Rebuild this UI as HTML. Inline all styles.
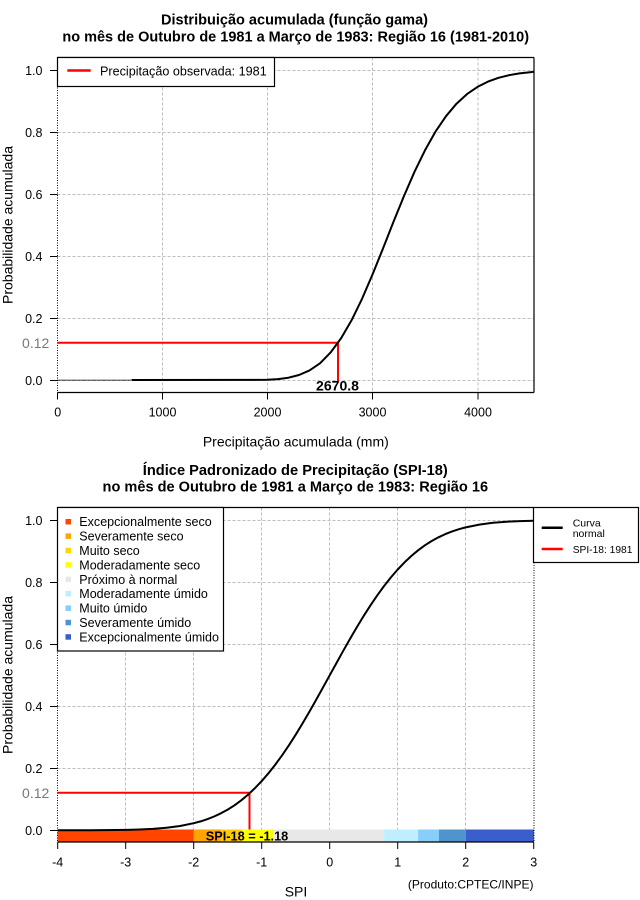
<!DOCTYPE html>
<html>
<head>
<meta charset="utf-8">
<style>
html,body{margin:0;padding:0;background:#fff;}
svg{display:block;}
text{font-family:"Liberation Sans",Arial,sans-serif;}
</style>
</head>
<body>
<svg width="640" height="900" viewBox="0 0 640 900" xmlns="http://www.w3.org/2000/svg">
<rect x="0" y="0" width="640" height="900" fill="#fff"/>

<!-- ============ PLOT 1 ============ -->
<text x="294.5" y="24.7" font-size="14.5" font-weight="bold" text-anchor="middle" textLength="267" lengthAdjust="spacingAndGlyphs">Distribuição acumulada (função gama)</text>
<text x="295.7" y="41.5" font-size="14.5" font-weight="bold" text-anchor="middle" textLength="466.7" lengthAdjust="spacingAndGlyphs">no mês de Outubro de 1981 a Março de 1983: Região 16 (1981-2010)</text>

<!-- grid -->
<g stroke="#bdbdbd" stroke-width="1" stroke-dasharray="3,2" fill="none">
<line x1="57.5" y1="70.5" x2="534" y2="70.5"/>
<line x1="57.5" y1="132.5" x2="534" y2="132.5"/>
<line x1="57.5" y1="194.5" x2="534" y2="194.5"/>
<line x1="57.5" y1="256.5" x2="534" y2="256.5"/>
<line x1="57.5" y1="318.5" x2="534" y2="318.5"/>
<line x1="57.5" y1="380.5" x2="534" y2="380.5"/>
<line x1="162.5" y1="57.5" x2="162.5" y2="392.5"/>
<line x1="267.5" y1="57.5" x2="267.5" y2="392.5"/>
<line x1="372.5" y1="57.5" x2="372.5" y2="392.5"/>
<line x1="478" y1="57.5" x2="478" y2="392.5"/>
</g>

<!-- frame -->
<g stroke="#000" stroke-width="1.2" fill="none">
<line x1="57.5" y1="57.5" x2="534" y2="57.5"/>
<line x1="534" y1="57.5" x2="534" y2="392.5"/>
<line x1="57.5" y1="392.5" x2="534" y2="392.5"/>
</g>
<line x1="57.5" y1="57.5" x2="57.5" y2="392.5" stroke="#000" stroke-width="1" stroke-dasharray="1,1.5"/>

<!-- y ticks -->
<g stroke="#000" stroke-width="1">
<line x1="50" y1="70.5" x2="57.5" y2="70.5"/>
<line x1="50" y1="132.5" x2="57.5" y2="132.5"/>
<line x1="50" y1="194.5" x2="57.5" y2="194.5"/>
<line x1="50" y1="256.5" x2="57.5" y2="256.5"/>
<line x1="50" y1="318.5" x2="57.5" y2="318.5"/>
<line x1="50" y1="380.5" x2="57.5" y2="380.5"/>
</g>
<g font-size="12.5" text-anchor="end" fill="#000">
<text x="42.5" y="75.2">1.0</text>
<text x="42.5" y="137.2">0.8</text>
<text x="42.5" y="199.2">0.6</text>
<text x="42.5" y="261.2">0.4</text>
<text x="42.5" y="323.2">0.2</text>
<text x="42.5" y="385.2">0.0</text>
</g>
<!-- x ticks -->
<g stroke="#000" stroke-width="1">
<line x1="57.5" y1="392.5" x2="57.5" y2="399.5"/>
<line x1="162.5" y1="392.5" x2="162.5" y2="399.5"/>
<line x1="267.5" y1="392.5" x2="267.5" y2="399.5"/>
<line x1="372.5" y1="392.5" x2="372.5" y2="399.5"/>
<line x1="478" y1="392.5" x2="478" y2="399.5"/>
</g>
<g font-size="12.5" text-anchor="middle" fill="#000">
<text x="57.7" y="416.7">0</text>
<text x="162.5" y="416.7">1000</text>
<text x="267.5" y="416.7">2000</text>
<text x="372.5" y="416.7">3000</text>
<text x="478" y="416.7">4000</text>
</g>
<text x="295.8" y="446.5" font-size="14" text-anchor="middle">Precipitação acumulada (mm)</text>
<text transform="translate(12.5,225) rotate(-90)" font-size="14" text-anchor="middle">Probabilidade acumulada</text>

<!-- red obs lines -->
<g stroke="#ff0000" stroke-width="2" fill="none">
<line x1="57.5" y1="342.7" x2="338" y2="342.7"/>
<line x1="338" y1="342.7" x2="338" y2="381"/>
</g>
<text x="49.3" y="347.8" font-size="14" text-anchor="end" fill="#777">0.12</text>

<!-- curve -->
<line x1="57.5" y1="380.3" x2="131.5" y2="380.3" stroke="#000" stroke-width="1.5" stroke-dasharray="1,1"/>
<path d="M131.5,380 L267.5,379.8 L278,379.1 L288.5,377.7 L299,375.0 L309.5,370.4 L320,363.3 L330.5,352.6 L341,338.4 L351.5,320.4 L362,298.9 L372.5,274.5 L383,248.5 L393.5,221.8 L404,196.0 L414.5,171.8 L425,150.3 L435.5,131.6 L446,116.2 L456.5,103.7 L467,94.1 L477.5,86.9 L488,81.6 L498.5,77.8 L509,75.2 L519.5,73.4 L530,72.2 L534,71.8" stroke="#000" stroke-width="2" fill="none" stroke-linejoin="round"/>
<text x="337.5" y="390.7" font-size="14" font-weight="bold" text-anchor="middle" textLength="43" lengthAdjust="spacingAndGlyphs">2670.8</text>

<!-- legend 1 -->
<rect x="57.5" y="57.5" width="217" height="29" fill="#fff" stroke="#000" stroke-width="1.2"/>
<line x1="67.3" y1="70.5" x2="90.7" y2="70.5" stroke="#ff0000" stroke-width="2.5"/>
<text x="100" y="75.3" font-size="12.5" textLength="166.7" lengthAdjust="spacingAndGlyphs">Precipitação observada: 1981</text>

<!-- ============ PLOT 2 ============ -->
<text x="295.3" y="475" font-size="14.5" font-weight="bold" text-anchor="middle" textLength="305" lengthAdjust="spacingAndGlyphs">Índice Padronizado de Precipitação (SPI-18)</text>
<text x="295.3" y="491.7" font-size="14.5" font-weight="bold" text-anchor="middle" textLength="385.5" lengthAdjust="spacingAndGlyphs">no mês de Outubro de 1981 a Março de 1983: Região 16</text>

<g stroke="#bdbdbd" stroke-width="1" stroke-dasharray="3,2" fill="none">
<line x1="57.5" y1="520.5" x2="534" y2="520.5"/>
<line x1="57.5" y1="582.5" x2="534" y2="582.5"/>
<line x1="57.5" y1="644.5" x2="534" y2="644.5"/>
<line x1="57.5" y1="706.5" x2="534" y2="706.5"/>
<line x1="57.5" y1="768.5" x2="534" y2="768.5"/>
<line x1="57.5" y1="830.5" x2="534" y2="830.5"/>
<line x1="125.5" y1="507.5" x2="125.5" y2="842"/>
<line x1="193.5" y1="507.5" x2="193.5" y2="842"/>
<line x1="261.5" y1="507.5" x2="261.5" y2="842"/>
<line x1="329.5" y1="507.5" x2="329.5" y2="842"/>
<line x1="397.5" y1="507.5" x2="397.5" y2="842"/>
<line x1="465.5" y1="507.5" x2="465.5" y2="842"/>
</g>

<!-- red obs lines -->
<g stroke="#ff0000" stroke-width="2" fill="none">
<line x1="57.5" y1="792.7" x2="249.5" y2="792.7"/>
<line x1="249.5" y1="792.7" x2="249.5" y2="830"/>
</g>

<!-- color bar -->
<rect x="57.5" y="829.5" width="136.2" height="12.5" fill="#ff4500"/>
<rect x="193.7" y="829.5" width="27.2" height="12.5" fill="#ffa500"/>
<rect x="220.9" y="829.5" width="20.4" height="12.5" fill="#ffcc00"/>
<rect x="241.3" y="829.5" width="32" height="12.5" fill="#ffff00"/>
<rect x="273.3" y="829.5" width="110.8" height="12.5" fill="#e8e8e8"/>
<rect x="384.1" y="829.5" width="34" height="12.5" fill="#bfefff"/>
<rect x="418.1" y="829.5" width="20.8" height="12.5" fill="#87cefa"/>
<rect x="438.9" y="829.5" width="27" height="12.5" fill="#4f94cd"/>
<rect x="465.9" y="829.5" width="68.1" height="12.5" fill="#3a5fcd"/>

<!-- frame -->
<g stroke="#000" stroke-width="1.2" fill="none">
<line x1="57.5" y1="507.5" x2="534" y2="507.5"/>
<line x1="57.5" y1="842" x2="534" y2="842"/>
</g>
<line x1="57.5" y1="507.5" x2="57.5" y2="842" stroke="#000" stroke-width="1" stroke-dasharray="1,1.5"/>
<line x1="534" y1="507.5" x2="534" y2="842" stroke="#000" stroke-width="1" stroke-dasharray="1,1.5"/>

<!-- curve -->
<path d="M57.7,830.3 L91.7,830.2 L125.7,829.9 L139.3,829.5 L152.9,828.9 L166.5,827.8 L180.1,826.0 L193.7,823.2 L200.5,821.4 L207.3,819.2 L214.1,816.5 L220.9,813.3 L227.7,809.6 L234.5,805.3 L241.3,800.3 L248.1,794.6 L254.9,788.2 L261.7,781.1 L268.5,773.2 L275.3,764.6 L282.1,755.3 L288.9,745.3 L295.7,734.7 L302.5,723.5 L309.3,711.9 L316.1,699.9 L322.9,687.6 L329.7,675.3 L336.5,663.0 L343.3,650.7 L350.1,638.7 L356.9,627.1 L363.7,615.9 L370.5,605.3 L377.3,595.3 L384.1,586.0 L390.9,577.4 L397.7,569.5 L404.5,562.4 L411.3,556.0 L418.1,550.3 L424.9,545.3 L431.7,541.0 L438.5,537.3 L445.3,534.1 L452.1,531.4 L458.9,529.2 L465.7,527.4 L479.3,524.6 L492.9,522.8 L506.5,521.7 L520.1,521.1 L533.7,520.7" stroke="#000" stroke-width="2" fill="none" stroke-linejoin="round"/>

<text x="205.7" y="840.6" font-size="13" font-weight="bold" textLength="82.6" lengthAdjust="spacingAndGlyphs">SPI-18 = -1.18</text>

<!-- y ticks -->
<g stroke="#000" stroke-width="1">
<line x1="50" y1="520.5" x2="57.5" y2="520.5"/>
<line x1="50" y1="582.5" x2="57.5" y2="582.5"/>
<line x1="50" y1="644.5" x2="57.5" y2="644.5"/>
<line x1="50" y1="706.5" x2="57.5" y2="706.5"/>
<line x1="50" y1="768.5" x2="57.5" y2="768.5"/>
<line x1="50" y1="830.5" x2="57.5" y2="830.5"/>
</g>
<g font-size="12.5" text-anchor="end" fill="#000">
<text x="42.5" y="525.1">1.0</text>
<text x="42.5" y="587.1">0.8</text>
<text x="42.5" y="649.1">0.6</text>
<text x="42.5" y="711.1">0.4</text>
<text x="42.5" y="773.1">0.2</text>
<text x="42.5" y="835.1">0.0</text>
</g>
<text x="49.3" y="797.8" font-size="14" text-anchor="end" fill="#777">0.12</text>

<!-- x ticks -->
<g stroke="#000" stroke-width="1">
<line x1="57.7" y1="842" x2="57.7" y2="849"/>
<line x1="125.7" y1="842" x2="125.7" y2="849"/>
<line x1="193.7" y1="842" x2="193.7" y2="849"/>
<line x1="261.7" y1="842" x2="261.7" y2="849"/>
<line x1="329.7" y1="842" x2="329.7" y2="849"/>
<line x1="397.7" y1="842" x2="397.7" y2="849"/>
<line x1="465.7" y1="842" x2="465.7" y2="849"/>
<line x1="533.7" y1="842" x2="533.7" y2="849"/>
</g>
<g font-size="12.5" text-anchor="middle" fill="#000">
<text x="57.7" y="866.7">-4</text>
<text x="125.7" y="866.7">-3</text>
<text x="193.7" y="866.7">-2</text>
<text x="261.7" y="866.7">-1</text>
<text x="329.7" y="866.7">0</text>
<text x="397.7" y="866.7">1</text>
<text x="465.7" y="866.7">2</text>
<text x="533.7" y="866.7">3</text>
</g>
<text x="296" y="896.5" font-size="14" text-anchor="middle">SPI</text>
<text x="533.5" y="888.5" font-size="12" text-anchor="end" textLength="125.6" lengthAdjust="spacingAndGlyphs">(Produto:CPTEC/INPE)</text>
<text transform="translate(12.5,675) rotate(-90)" font-size="14" text-anchor="middle">Probabilidade acumulada</text>

<!-- legend 2a -->
<rect x="57.5" y="507.5" width="166" height="143.5" fill="#fff" stroke="#000" stroke-width="1.2"/>
<g>
<rect x="65.5" y="519" width="5.5" height="5.5" fill="#ff4500"/>
<rect x="65.5" y="533.4" width="5.5" height="5.5" fill="#ffa500"/>
<rect x="65.5" y="547.8" width="5.5" height="5.5" fill="#ffd700"/>
<rect x="65.5" y="562.2" width="5.5" height="5.5" fill="#ffff00"/>
<rect x="65.5" y="576.6" width="5.5" height="5.5" fill="#e8e8e8"/>
<rect x="65.5" y="591" width="5.5" height="5.5" fill="#bfefff"/>
<rect x="65.5" y="605.4" width="5.5" height="5.5" fill="#87cefa"/>
<rect x="65.5" y="619.8" width="5.5" height="5.5" fill="#4f94cd"/>
<rect x="65.5" y="634.2" width="5.5" height="5.5" fill="#3a5fcd"/>
</g>
<g font-size="12.5" fill="#000">
<text x="79.3" y="526.2" textLength="132.4" lengthAdjust="spacingAndGlyphs">Excepcionalmente seco</text>
<text x="79.3" y="540.6">Severamente seco</text>
<text x="79.3" y="555">Muito seco</text>
<text x="79.3" y="569.4">Moderadamente seco</text>
<text x="79.3" y="583.8">Próximo à normal</text>
<text x="79.3" y="598.2">Moderadamente úmido</text>
<text x="79.3" y="612.6">Muito úmido</text>
<text x="79.3" y="627">Severamente úmido</text>
<text x="79.3" y="641.4">Excepcionalmente úmido</text>
</g>

<!-- legend 2b -->
<rect x="533.5" y="507.5" width="105" height="55" fill="#fff" stroke="#000" stroke-width="1.2"/>
<line x1="541.7" y1="527.7" x2="562.7" y2="527.7" stroke="#000" stroke-width="2.5"/>
<line x1="541.7" y1="549" x2="562.7" y2="549" stroke="#ff0000" stroke-width="2.5"/>
<g font-size="10.5" fill="#000">
<text x="572.7" y="526.7">Curva</text>
<text x="572.7" y="537">normal</text>
<text x="572.7" y="553.2" textLength="59.7" lengthAdjust="spacingAndGlyphs">SPI-18: 1981</text>
</g>
</svg>
</body>
</html>
